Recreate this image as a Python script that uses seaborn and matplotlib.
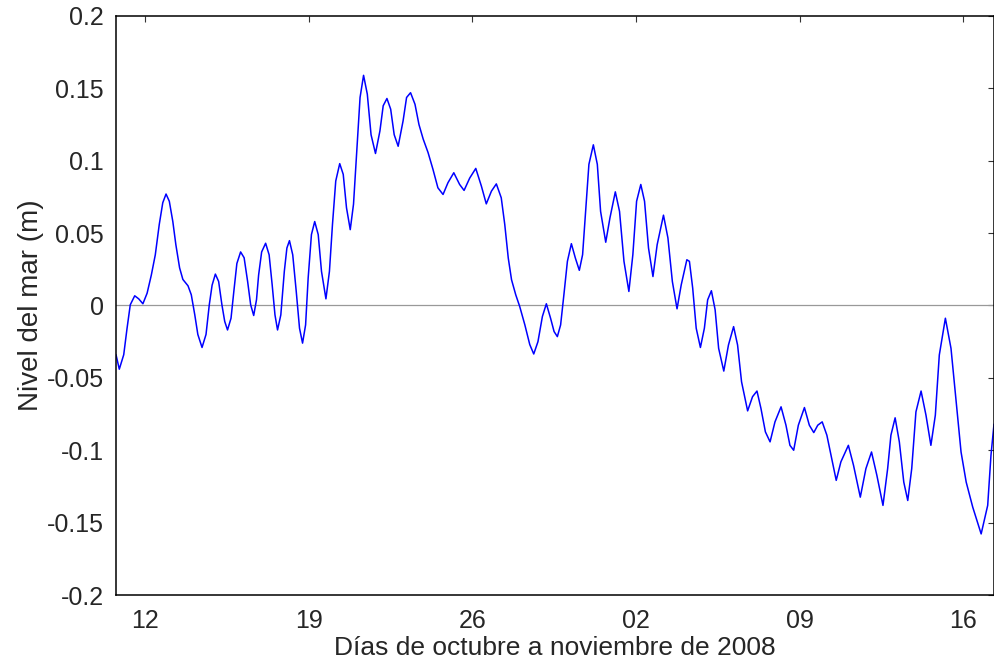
import numpy as np
import pandas as pd
import seaborn as sns
import matplotlib.pyplot as plt

# days counted from 1 Oct 2008 (Nov 2 = 33)
days = [10.76, 10.90, 11.09, 11.23, 11.37, 11.56, 11.73, 11.91, 12.09, 12.27,
        12.44, 12.61, 12.76, 12.90, 13.04, 13.19, 13.32, 13.48, 13.62, 13.84,
        13.98, 14.13, 14.26, 14.44, 14.61, 14.75, 14.87, 15.01, 15.15, 15.29,
        15.41, 15.53, 15.68, 15.80, 15.93, 16.09, 16.24, 16.39, 16.52, 16.65,
        16.77, 16.86, 16.99, 17.16, 17.31, 17.44, 17.56, 17.67, 17.81, 17.96,
        18.07, 18.18, 18.32, 18.47, 18.61, 18.74, 18.87, 18.98, 19.12, 19.26,
        19.41, 19.55, 19.74, 19.89, 20.02, 20.16, 20.33, 20.48, 20.62, 20.78,
        20.92, 21.05, 21.20, 21.35, 21.51, 21.67, 21.86, 22.05, 22.19, 22.35,
        22.51, 22.66, 22.83, 23.04, 23.19, 23.36, 23.55, 23.72, 23.90, 24.11,
        24.32, 24.53, 24.75, 24.96, 25.21, 25.46, 25.65, 25.89, 26.15, 26.39,
        26.60, 26.82, 27.03, 27.24, 27.39, 27.54, 27.68, 27.86, 28.03, 28.25,
        28.46, 28.63, 28.81, 29.00, 29.17, 29.35, 29.50, 29.64, 29.78, 29.92,
        30.07, 30.24, 30.41, 30.58, 30.72, 30.85, 30.99, 31.18, 31.35, 31.49,
        31.71, 31.89, 32.12, 32.30, 32.49, 32.70, 32.87, 33.03, 33.21, 33.37,
        33.54, 33.73, 33.91, 34.18, 34.37, 34.56, 34.76, 34.94, 35.18, 35.29,
        35.43, 35.58, 35.76, 35.93, 36.07, 36.23, 36.39, 36.54, 36.76, 36.96,
        37.18, 37.35, 37.52, 37.78, 37.99, 38.18, 38.35, 38.54, 38.74, 38.95,
        39.21, 39.42, 39.59, 39.75, 39.95, 40.21, 40.42, 40.61, 40.78, 40.97,
        41.17, 41.35, 41.57, 41.77, 42.09, 42.31, 42.60, 42.84, 43.08, 43.31,
        43.57, 43.77, 43.91, 44.09, 44.27, 44.46, 44.63, 44.80, 44.98, 45.20,
        45.41, 45.62, 45.81, 45.98, 46.24, 46.48, 46.70, 46.91, 47.13, 47.41,
        47.77, 48.05, 48.19, 48.32]
nivel = [-0.034, -0.044, -0.034, -0.016, 0.0005, 0.0067, 0.0046, 0.0012, 0.0085, 0.021,
         0.035, 0.056, 0.071, 0.077, 0.072, 0.058, 0.042, 0.026, 0.018, 0.0136,
         0.0074, -0.0065, -0.020, -0.029, -0.020, 0.0005, 0.014, 0.0217, 0.0166, 0.0005,
         -0.011, -0.0169, -0.0088, 0.0097, 0.029, 0.037, 0.033, 0.0166, 0.0005, -0.0069,
         0.004, 0.021, 0.037, 0.043, 0.035, 0.0143, -0.0065, -0.0169, -0.0065, 0.0236,
         0.0397, 0.0448, 0.035, 0.0097, -0.0157, -0.026, -0.0134, 0.019, 0.049, 0.058,
         0.049, 0.0236, 0.0046, 0.0236, 0.056, 0.086, 0.098, 0.0906, 0.0675, 0.0524,
         0.070, 0.104, 0.1437, 0.159, 0.146, 0.118, 0.105, 0.1206, 0.138, 0.143,
         0.1356, 0.118, 0.110, 0.1275, 0.1437, 0.147, 0.139, 0.125, 0.115, 0.1056,
         0.094, 0.0813, 0.0767, 0.0848, 0.0917, 0.0836, 0.0795, 0.088, 0.0947, 0.0825,
         0.0702, 0.079, 0.084, 0.0744, 0.056, 0.0328, 0.0178, 0.0074, -0.0007, -0.0134,
         -0.027, -0.0335, -0.025, -0.0076, 0.0012, -0.0088, -0.018, -0.0215, -0.0134, 0.0074,
         0.0305, 0.0427, 0.0328, 0.0243, 0.0351, 0.065, 0.0975, 0.111, 0.0975, 0.065,
         0.0437, 0.0605, 0.0785, 0.065, 0.0305, 0.0097, 0.0351, 0.072, 0.0836, 0.072,
         0.0397, 0.020, 0.042, 0.0624, 0.0467, 0.0166, -0.0023, 0.0143, 0.0316, 0.0305,
         0.012, -0.0157, -0.029, -0.0157, 0.0039, 0.0102, -0.003, -0.0296, -0.0453, -0.0273,
         -0.0146, -0.0273, -0.0527, -0.0728, -0.063, -0.0591, -0.0711, -0.0873, -0.0942, -0.0804,
         -0.070, -0.0827, -0.0966, -0.100, -0.0827, -0.0705, -0.0827, -0.0878, -0.0827, -0.0804,
         -0.0896, -0.1035, -0.1208, -0.108, -0.0966, -0.1104, -0.1324, -0.1127, -0.1012, -0.1174,
         -0.1381, -0.1127, -0.0896, -0.0776, -0.0942, -0.122, -0.1347, -0.1127, -0.0735, -0.0591,
         -0.0758, -0.0966, -0.0758, -0.0342, -0.0088, -0.0296, -0.0665, -0.1012, -0.122, -0.1393,
         -0.1578, -0.1381, -0.1035, -0.082]

tick_days = [12, 19, 26, 33, 40, 47]
tick_labels = ["12", "19", "26", "02", "09", "16"]
y_ticks = [-0.2, -0.15, -0.1, -0.05, 0, 0.05, 0.1, 0.15, 0.2]
y_labels = ["-0.2", "-0.15", "-0.1", "-0.05", "0", "0.05", "0.1", "0.15", "0.2"]

df = pd.DataFrame({"dia": days, "nivel": nivel})

sns.set_style("white")
plt.rcParams['font.family'] = ['Liberation Sans', 'DejaVu Sans']

fig = plt.figure(figsize=(9.95, 6.66), dpi=100)
ax = fig.add_axes([0.1166, 0.1066, 0.8824, 0.8694])

ax.axhline(0, color="#999999", linewidth=0.9, zorder=1)
sns.lineplot(data=df, x="dia", y="nivel", ax=ax, color="#0000ff",
             linewidth=1.1, sort=False, estimator=None, zorder=2)

ax.set_xlim(10.76, 48.32)
ax.set_ylim(-0.2, 0.2)
ax.set_xticks(tick_days)
ax.set_xticklabels(tick_labels)
ax.set_yticks(y_ticks)
ax.set_yticklabels(y_labels)
ax.tick_params(direction="in", length=4, width=0.8, top=True, right=True,
               labelsize=18, color="#333333")
ax.tick_params(axis="x", pad=10)
ax.tick_params(axis="y", pad=9)

for s in ax.spines.values():
    s.set_visible(True)
    s.set_color("black")
    s.set_linewidth(1.1)

ax.set_xlabel("Días de octubre a noviembre de 2008", fontsize=19, labelpad=2.5)
ax.set_ylabel("Nivel del mar (m)", fontsize=20, labelpad=2)

fig.savefig("out.png", dpi=100)
